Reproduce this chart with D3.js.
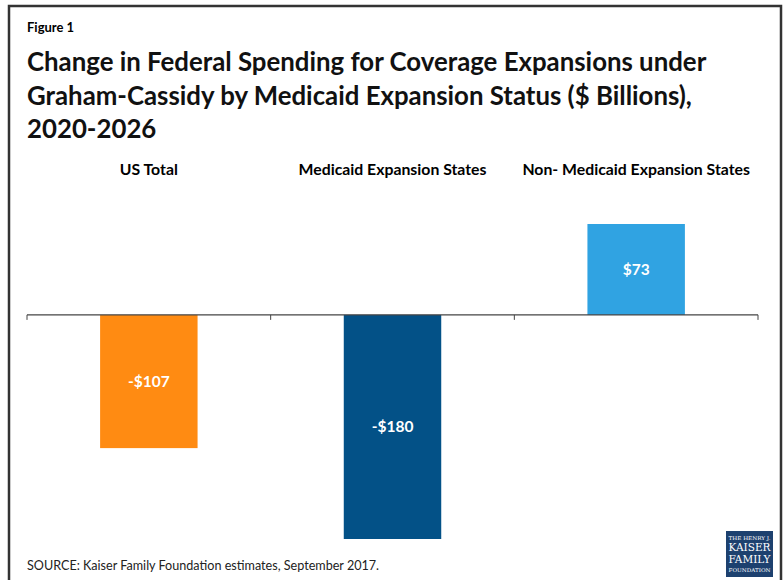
<!DOCTYPE html>
<html>
<head>
<meta charset="utf-8">
<script src="https://cdn.jsdelivr.net/npm/d3@7"></script>
<style>
  body { margin: 0; background: #fff; }
  svg { display: block; font-family: Lato, "Open Sans", sans-serif; }
</style>
</head>
<body>
<svg id="chart" width="784" height="580"></svg>
<script>
const width = 784;
const height = 580;

// data
const categories = ["US Total", "Medicaid Expansion States", "Non- Medicaid Expansion States"];
const values = [-107, -180, 73];
const valueLabels = ["-$107", "-$180", "$73"];
const barColors = ["#ff8b12", "#035187", "#30a3e2"];
const titleLines = [
    "Change in Federal Spending for Coverage Expansions under",
    "Graham-Cassidy by Medicaid Expansion Status ($ Billions),",
    "2020-2026"
];

const svg = d3.select("#chart");

// frame
svg.append("path")
    .attr("d", `M9,${height} V6 H781 V${height}`)
    .attr("fill", "none")
    .attr("stroke", "#333")
    .attr("stroke-width", 2.5);

svg.append("text")
    .attr("x", 27).attr("y", 32)
    .attr("font-size", 13).attr("font-weight", "bold")
    .text("Figure 1");

const title = svg.append("g");
titleLines.forEach((t, i) => {
    title.append("text")
        .attr("x", 27).attr("y", 71 + i * 33.5)
        .attr("font-size", 25.8).attr("font-weight", "bold")
        .attr("fill", "#111")
        .text(t);
});

const x = d3.scaleBand()
    .domain(categories)
    .range([27, 758])
    .paddingInner(0.6)
    .paddingOuter(0.3);

const y = d3.scaleLinear()
    .domain([-180, 73])
    .range([539, 224]);

// category headers above the plot
svg.selectAll("text.cat")
    .data(categories)
    .enter()
    .append("text")
    .attr("class", "cat")
    .attr("x", d => x(d) + x.bandwidth() / 2)
    .attr("y", 175)
    .attr("text-anchor", "middle")
    .attr("font-size", 15.8).attr("font-weight", "bold")
    .text(d => d);

svg.selectAll("rect.bar")
    .data(values)
    .enter()
    .append("rect")
    .attr("class", "bar")
    .attr("x", (d, i) => x(categories[i]))
    .attr("width", x.bandwidth())
    .attr("y", d => y(Math.max(0, d)))
    .attr("height", d => Math.abs(y(d) - y(0)))
    .attr("fill", (d, i) => barColors[i]);

svg.selectAll("text.val")
    .data(values)
    .enter()
    .append("text")
    .attr("class", "val")
    .attr("x", (d, i) => x(categories[i]) + x.bandwidth() / 2)
    .attr("y", d => (y(d) + y(0)) / 2 + 5.5)
    .attr("text-anchor", "middle")
    .attr("fill", "#fff")
    .attr("font-size", 15.5).attr("font-weight", "bold")
    .text((d, i) => valueLabels[i]);

// zero axis with ticks at band boundaries
const ticks = d3.range(categories.length + 1).map(i => 27 + i * (731 / 3));
const axis = svg.append("g");
axis.append("line")
    .attr("x1", 27).attr("x2", 758)
    .attr("y1", y(0)).attr("y2", y(0))
    .attr("stroke", "#444").attr("stroke-width", 1.3);
axis.selectAll("line.tick")
    .data(ticks)
    .enter()
    .append("line")
    .attr("class", "tick")
    .attr("x1", d => d).attr("x2", d => d)
    .attr("y1", y(0)).attr("y2", y(0) + 5)
    .attr("stroke", "#444");

svg.append("text")
    .attr("x", 27).attr("y", 570)
    .attr("font-size", 12.6)
    .attr("fill", "#222")
    .text("SOURCE: Kaiser Family Foundation estimates, September 2017.");

// logo
const logo = svg.append("g").attr("transform", "translate(726,531)");
logo.append("rect").attr("width", 47).attr("height", 46).attr("fill", "#1d416f");
[["THE HENRY J.", 9, 5], ["KAISER", 20, 10.5], ["FAMILY", 32, 10.5], ["FOUNDATION", 41, 5]].forEach(([t, yy, fs]) => {
    logo.append("text")
        .attr("x", 23.5).attr("y", yy)
        .attr("text-anchor", "middle")
        .attr("font-family", "'DejaVu Serif', 'Liberation Serif', serif")
        .attr("font-size", fs)
        .attr("fill", "#fff")
        .attr("textLength", 42).attr("lengthAdjust", "spacingAndGlyphs")
        .text(t);
});
</script>
</body>
</html>
